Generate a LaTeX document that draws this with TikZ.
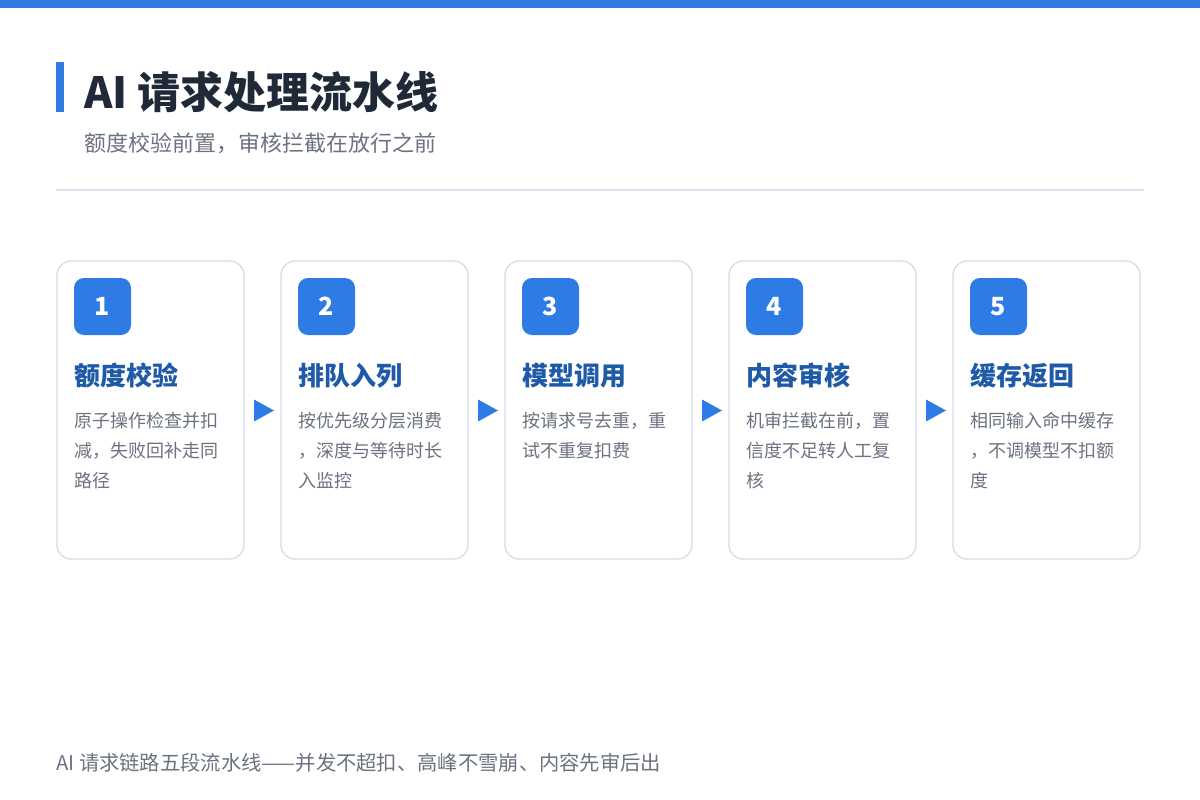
\documentclass[tikz,border=0pt]{standalone}
\usepackage{fontspec}
\setmainfont{Noto Sans CJK SC}
\usetikzlibrary{calc}
\definecolor{topbar}{HTML}{2F7DE1}
\definecolor{badgeblue}{HTML}{2E7BE6}
\definecolor{headblue}{HTML}{1E5AA8}
\definecolor{bodygray}{HTML}{6B7280}
\definecolor{titledark}{HTML}{1F2937}
\definecolor{divider}{HTML}{D9E2EC}
\definecolor{cardborder}{HTML}{D5DDE8}
\tikzset{
  card/.style={draw=cardborder, line width=1.3pt, fill=white, rounded corners=14pt},
  badge/.style={fill=badgeblue, rounded corners=10pt},
  badgenum/.style={text=white, font=\fontsize{25}{25}\selectfont\bfseries, inner sep=0pt},
  headtxt/.style={anchor=base west, text=headblue, font=\fontsize{26}{26}\selectfont\bfseries, inner sep=0pt},
  bodytxt/.style={anchor=base west, text=bodygray, font=\fontsize{18}{18}\selectfont, inner sep=0pt},
  flowtri/.style={fill=badgeblue},
}
\begin{document}
\begin{tikzpicture}[x=1pt,y=-1pt]
\useasboundingbox (0,0) rectangle (1200,800);
\fill[white] (0,0) rectangle (1200,800);
\fill[topbar] (0,0) rectangle (1200,8);
% title
\fill[topbar] (56,62) rectangle (64,112);
\node[anchor=base west, inner sep=0pt, text=titledark, font=\fontsize{43}{43}\selectfont\bfseries] (title) at (84,108) {AI 请求处理流水线};
\node[anchor=base west, inner sep=0pt, text=bodygray, font=\fontsize{22}{22}\selectfont] (subtitle) at (84,151) {额度校验前置，审核拦截在放行之前};
\draw[divider, line width=1.5pt] (56,190) -- (1144,190);
% cards
\foreach \i/\num/\head/\la/\lb/\lc in {
  0/1/额度校验/原子操作检查并扣/减，失败回补走同/路径,
  1/2/排队入列/按优先级分层消费/，深度与等待时长/入监控,
  2/3/模型调用/按请求号去重，重/试不重复扣费/,
  3/4/内容审核/机审拦截在前，置/信度不足转人工复/核,
  4/5/缓存返回/相同输入命中缓存/，不调模型不扣额/度}{
  \pgfmathsetmacro{\x}{57+224*\i}
  \draw[card] (\x,261) rectangle ++(187,298);
  \fill[badge] (\x+17,278) rectangle ++(57,57);
  \node[badgenum] (n\num) at (\x+45.5,306.5) {\num};
  \node[headtxt] (h\num) at (\x+17,385) {\head};
  \node[bodytxt] (b\num a) at (\x+17,427) {\la};
  \node[bodytxt] (b\num b) at (\x+17,457) {\lb};
  \node[bodytxt] (b\num c) at (\x+17,487) {\lc};
}
\foreach \i in {0,1,2,3}{
  \pgfmathsetmacro{\x}{254+224*\i}
  \fill[flowtri] (\x,399.5) -- (\x+20,410.5) -- (\x,421.5) -- cycle;
}
\node[anchor=base west, inner sep=0pt, text=bodygray, font=\fontsize{20.3}{20.3}\selectfont] (footer) at (56,770) {AI 请求链路五段流水线——并发不超扣、高峰不雪崩、内容先审后出};
\end{tikzpicture}
\end{document}
